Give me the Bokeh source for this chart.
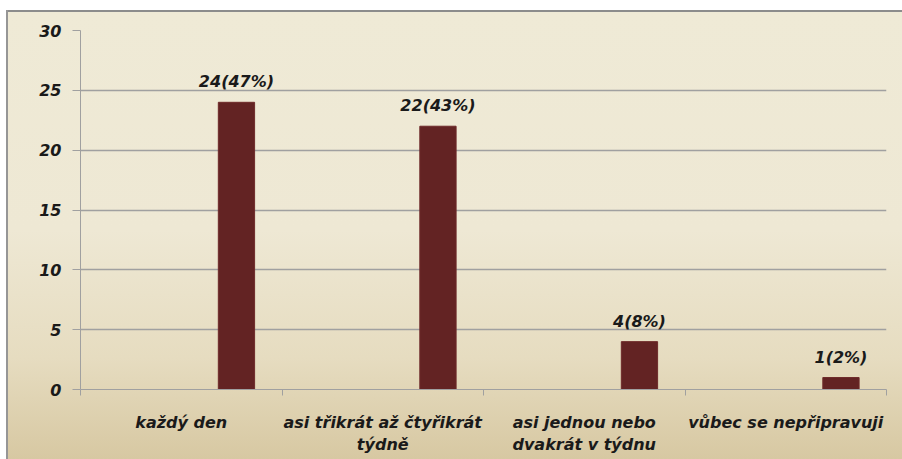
from bokeh.plotting import figure
from bokeh.models import Range1d, FixedTicker, ColumnDataSource
from bokeh.core.properties import value
from bokeh.embed import file_html
from bokeh.resources import INLINE

categories = ["každý den", "asi třikrát až čtyřikrát\ntýdně", "asi jednou nebo\ndvakrát v týdnu", "vůbec se nepřipravuji"]
counts = [24, 22, 4, 1]
labels = ["24(47%)", "22(43%)", "4(8%)", "1(2%)"]
y_ticks = [0, 5, 10, 15, 20, 25, 30]

FONT = "DejaVu Sans"
BAR_OFFSET = 0.774
BAR_WIDTH = 0.18

xs = [i + BAR_OFFSET for i in range(len(categories))]
src = ColumnDataSource(dict(x=xs, top=counts, label=labels))

p = figure(width=902, height=459, output_backend="svg", toolbar_location=None,
           x_range=Range1d(0, len(categories)), y_range=Range1d(0, 30),
           min_border_left=80, min_border_right=16, min_border_top=30, min_border_bottom=70)
p.background_fill_color = None
p.border_fill_color = None
p.outline_line_color = None
p.styles = {
    "background-image": "linear-gradient(to bottom, #ffffff 0px, #ffffff 10px, transparent 10px), "
                        "linear-gradient(to right, #ffffff 0px, #ffffff 6px, #969696 6px, #969696 8px, transparent 8px), "
                        "linear-gradient(to bottom, #ffffff 0px, #ffffff 10px, #8c8c8c 10px, #8c8c8c 12px, "
                        "#efead6 12px, #eee8d4 50%, #e6dcc0 78%, #d7c8a2 100%)",
}

p.vbar(x="x", top="top", width=BAR_WIDTH, source=src, fill_color="#632323", line_color="#6e2a2a", line_width=1)
p.text(x="x", y="top", text="label", source=src, text_align="center", text_baseline="bottom",
       y_offset=-11, text_font=value(FONT), text_font_size="16px", text_font_style="bold italic",
       text_color="#1a1a1a")

# y axis
p.yaxis.ticker = FixedTicker(ticks=y_ticks)
p.yaxis.axis_line_color = "#a0a0a0"
p.yaxis.major_tick_line_color = "#a0a0a0"
p.yaxis.major_tick_out = 8
p.yaxis.major_tick_in = 0
p.yaxis.minor_tick_line_color = None
p.yaxis.major_label_standoff = 11
p.yaxis.major_label_text_font = FONT
p.yaxis.major_label_text_font_size = "16px"
p.yaxis.major_label_text_font_style = "bold italic"
p.yaxis.major_label_text_color = "#1a1a1a"

# x axis
p.xaxis.ticker = FixedTicker(ticks=[i + 0.5 for i in range(len(categories))],
                             minor_ticks=list(range(len(categories) + 1)))
p.xaxis.major_label_overrides = {i + 0.5: c for i, c in enumerate(categories)}
p.xaxis.axis_line_color = "#a0a0a0"
p.xaxis.major_tick_line_color = None
p.xaxis.minor_tick_line_color = "#a0a0a0"
p.xaxis.minor_tick_out = 6
p.xaxis.minor_tick_in = 0
p.xaxis.major_label_standoff = 17
p.xaxis.major_label_text_font = FONT
p.xaxis.major_label_text_font_size = "16px"
p.xaxis.major_label_text_font_style = "bold italic"
p.xaxis.major_label_text_color = "#1a1a1a"

p.xgrid.grid_line_color = None
p.ygrid.ticker = FixedTicker(ticks=y_ticks)
p.ygrid.grid_line_color = "#a0a0a0"
p.ygrid.grid_line_width = 1.3

open("out.html", "w").write(file_html(p, INLINE))
